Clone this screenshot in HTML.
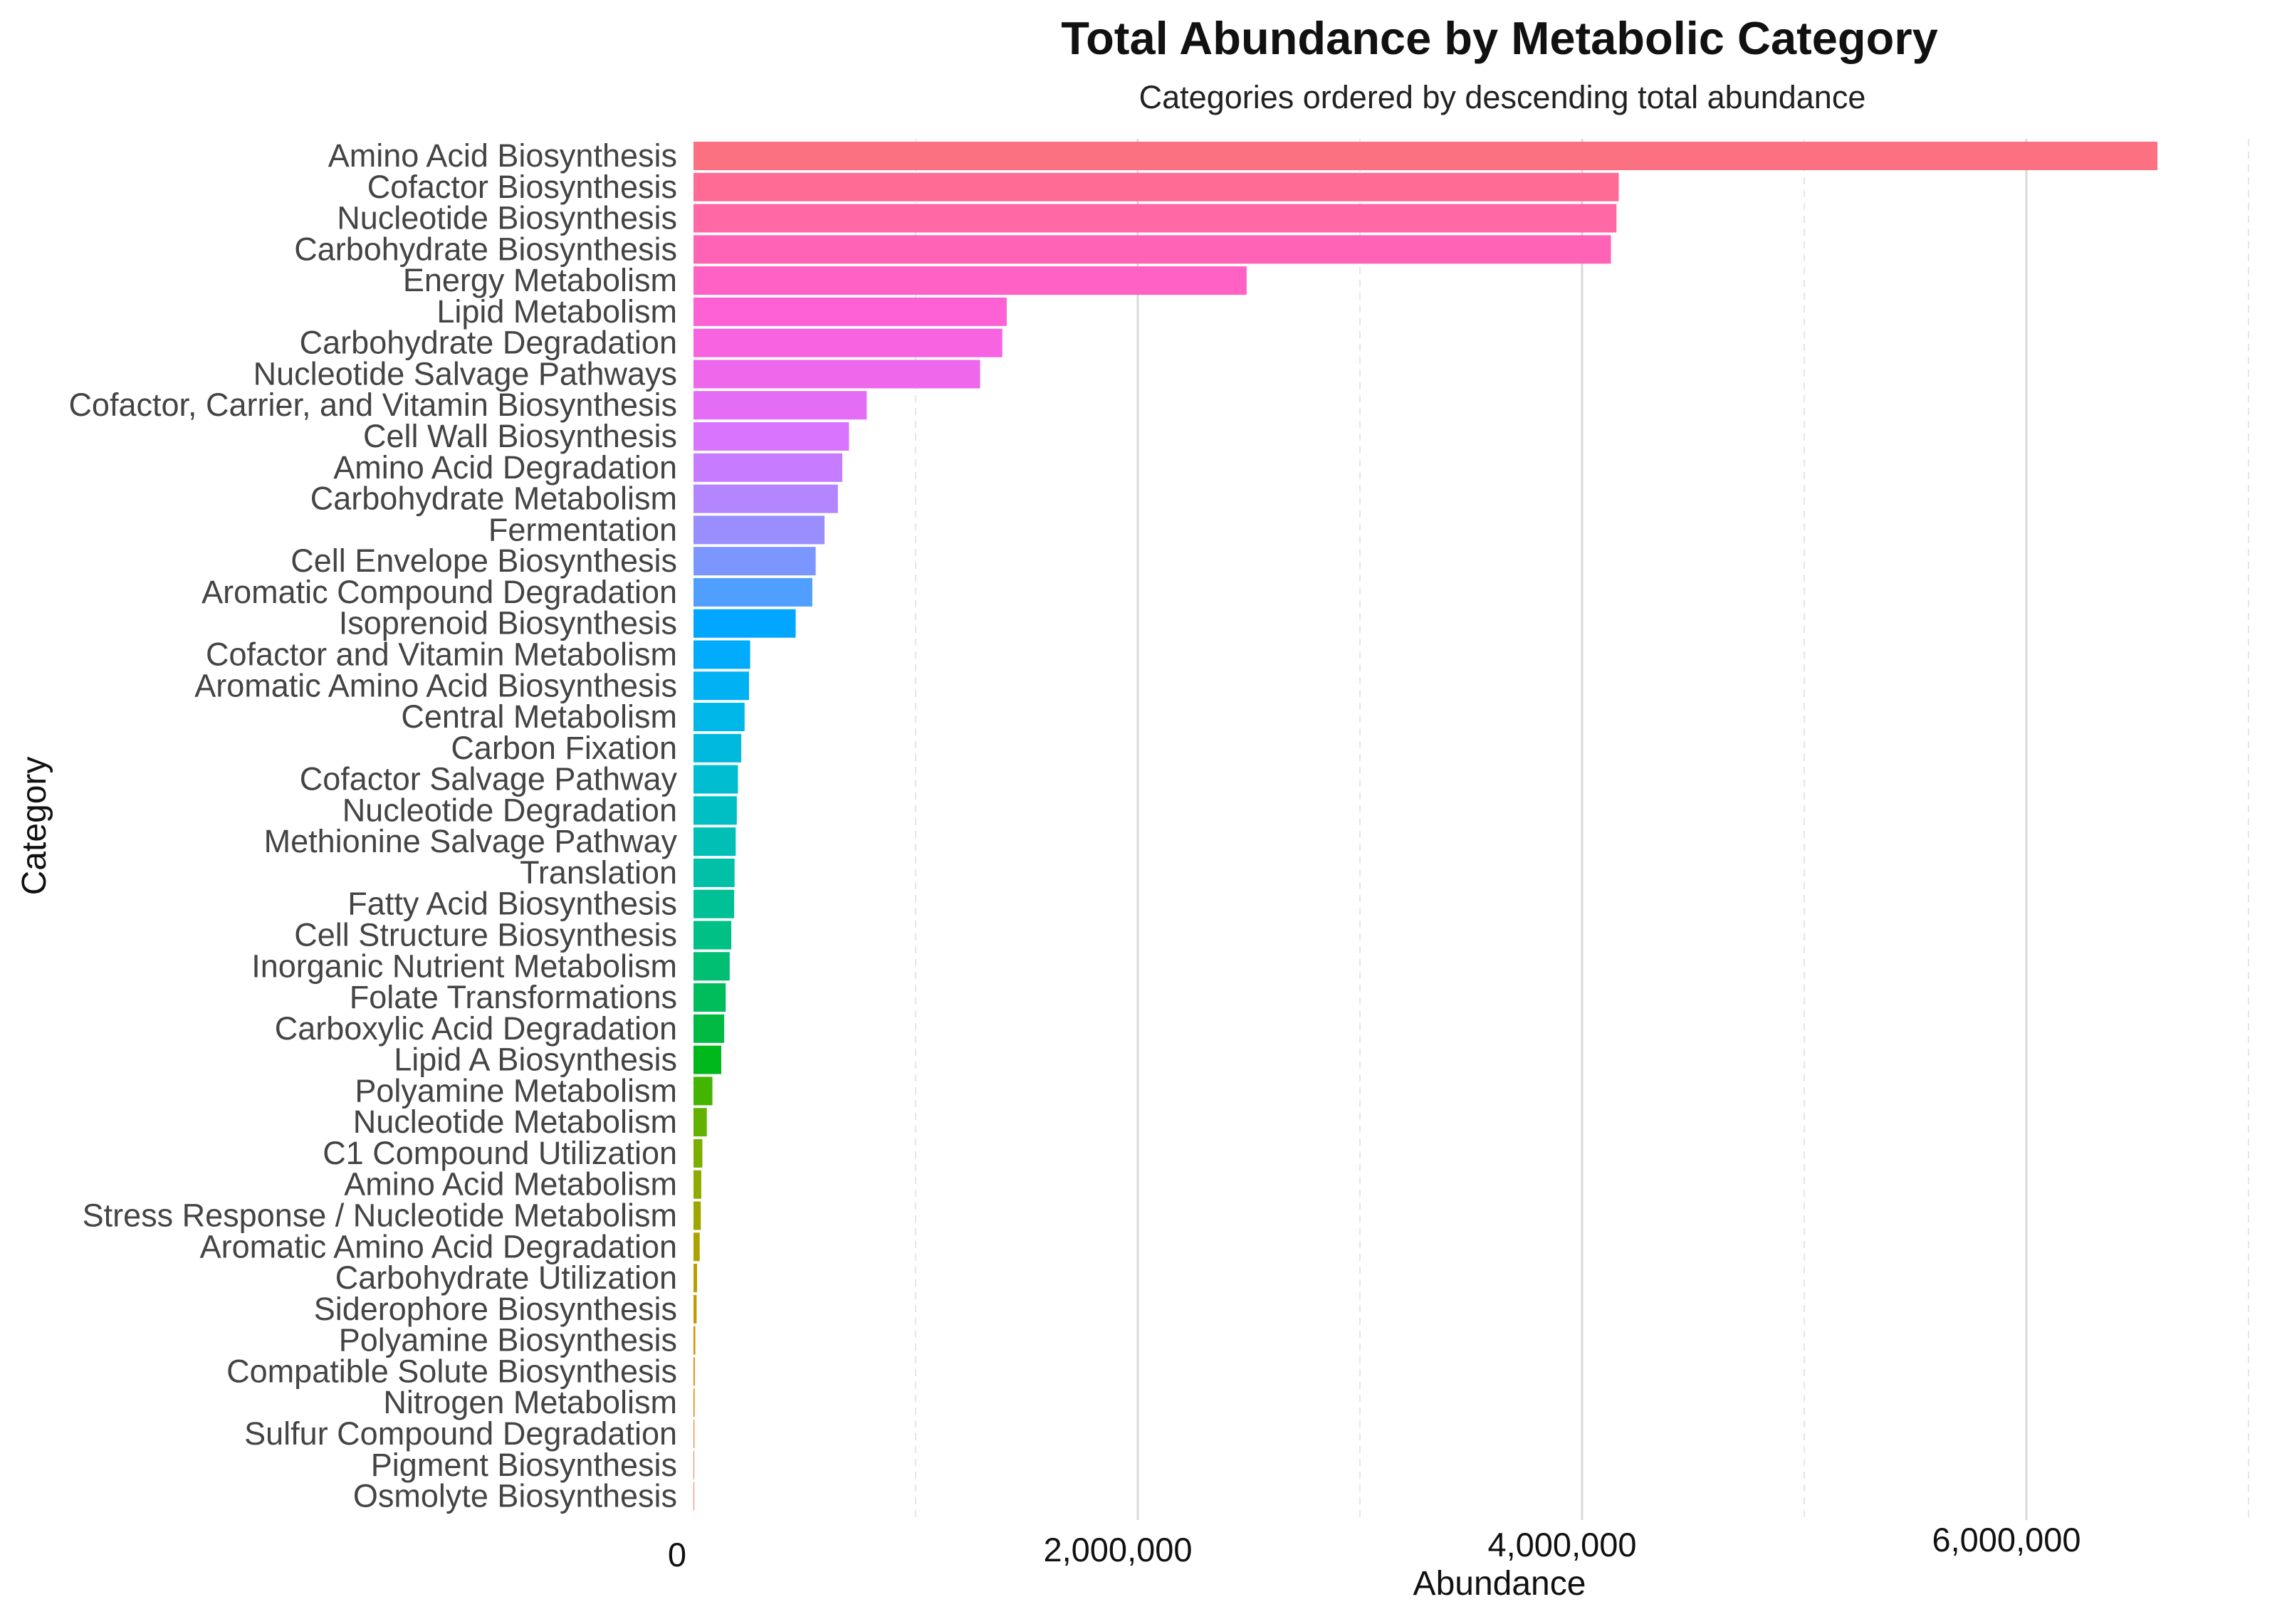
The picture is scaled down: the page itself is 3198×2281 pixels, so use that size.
<!DOCTYPE html>
<html><head><meta charset="utf-8"><style>
html,body{margin:0;padding:0;background:#fff;}
svg{display:block;font-family:"Liberation Sans",sans-serif;}
</style></head><body>
<svg id="chart" width="3198" height="2281" viewBox="0 0 3198 2281">
<text x="2106" y="76" text-anchor="middle" font-size="65" font-weight="bold" fill="#111">Total Abundance by Metabolic Category</text>
<text x="2110" y="152" text-anchor="middle" font-size="45" fill="#222">Categories ordered by descending total abundance</text>
<g id="grid"></g><g id="bars"></g><g id="ylabels"></g><g id="xticks"></g>
<text x="2106" y="2240" text-anchor="middle" font-size="48" fill="#111">Abundance</text>
<text transform="translate(64,1160) rotate(-90)" text-anchor="middle" font-size="48" fill="#111">Category</text>
</svg>
<script>
const categories=["Amino Acid Biosynthesis","Cofactor Biosynthesis","Nucleotide Biosynthesis","Carbohydrate Biosynthesis","Energy Metabolism","Lipid Metabolism","Carbohydrate Degradation","Nucleotide Salvage Pathways","Cofactor, Carrier, and Vitamin Biosynthesis","Cell Wall Biosynthesis","Amino Acid Degradation","Carbohydrate Metabolism","Fermentation","Cell Envelope Biosynthesis","Aromatic Compound Degradation","Isoprenoid Biosynthesis","Cofactor and Vitamin Metabolism","Aromatic Amino Acid Biosynthesis","Central Metabolism","Carbon Fixation","Cofactor Salvage Pathway","Nucleotide Degradation","Methionine Salvage Pathway","Translation","Fatty Acid Biosynthesis","Cell Structure Biosynthesis","Inorganic Nutrient Metabolism","Folate Transformations","Carboxylic Acid Degradation","Lipid A Biosynthesis","Polyamine Metabolism","Nucleotide Metabolism","C1 Compound Utilization","Amino Acid Metabolism","Stress Response / Nucleotide Metabolism","Aromatic Amino Acid Degradation","Carbohydrate Utilization","Siderophore Biosynthesis","Polyamine Biosynthesis","Compatible Solute Biosynthesis","Nitrogen Metabolism","Sulfur Compound Degradation","Pigment Biosynthesis","Osmolyte Biosynthesis"];
const values=[6590000,4165000,4155000,4130000,2490000,1410000,1390000,1290000,780000,700000,670000,650000,590000,550000,535000,460000,255000,250000,230000,215000,200000,195000,190000,185000,183000,170000,163000,145000,138000,125000,85000,60000,40000,35000,33000,28000,16000,14000,8000,6000,5000,4000,3000,2000];
const majorTicks=[0,2000000,4000000,6000000];
const tickLabels=["0","2,000,000","4,000,000","6,000,000"];
const minorTicks=[1000000,3000000,5000000,7000000];
const NS="http://www.w3.org/2000/svg";
const x0=974,k=312/1e6;
const xs=v=>x0+v*k;
const yc=i=>219+i*43.78;
function hcl(h,c,l){const Xn=95.047,Yn=100,Zn=108.883;const un=4*Xn/(Xn+15*Yn+3*Zn),vn=9*Yn/(Xn+15*Yn+3*Zn);
const Y=Math.pow((l+16)/116,3)*100;const hr=h*Math.PI/180;const u=c*Math.cos(hr),v=c*Math.sin(hr);
const up=u/(13*l)+un,vp=v/(13*l)+vn;const X=Y*9*up/(4*vp),Z=Y*(12-3*up-20*vp)/(4*vp);
const x=X/100,y=Y/100,z=Z/100;
let r=3.2404542*x-1.5371385*y-0.4985314*z,g=-0.9692660*x+1.8760108*y+0.0415560*z,b=0.0556434*x-0.2040259*y+1.0572252*z;
const gm=t=>{t=t<=0.0031308?12.92*t:1.055*Math.pow(t,1/2.4)-0.055;return Math.round(Math.max(0,Math.min(1,t))*255);};
return `rgb(${gm(r)},${gm(g)},${gm(b)})`;}
const grid=document.getElementById('grid');
minorTicks.forEach((t,i)=>{const l=document.createElementNS(NS,'line');
l.setAttribute('x1',xs(t));l.setAttribute('x2',xs(t));l.setAttribute('y1',195);l.setAttribute('y2',2135);
l.setAttribute('stroke','#e6e6e6');l.setAttribute('stroke-width','2');l.setAttribute('stroke-dasharray','10 8');


grid.appendChild(l);});
majorTicks.slice(1).forEach((t,i)=>{const l=document.createElementNS(NS,'line');
l.setAttribute('x1',xs(t));l.setAttribute('x2',xs(t));l.setAttribute('y1',195);l.setAttribute('y2',2135);
l.setAttribute('stroke','#d9d9d9');l.setAttribute('stroke-width','3');


grid.appendChild(l);});
const bars=document.getElementById('bars'),yl=document.getElementById('ylabels');
const n=categories.length;
categories.forEach((c,i)=>{
const hue=15+(n-1-i)*360/n;
const r=document.createElementNS(NS,'rect');
r.setAttribute('x',x0);r.setAttribute('y',yc(i)-20);r.setAttribute('height',40);
r.setAttribute('width',Math.max(1,xs(values[i])-x0));r.setAttribute('fill',hcl(hue,100,65));


bars.appendChild(r);
const t=document.createElementNS(NS,'text');
t.setAttribute('x',951);t.setAttribute('y',yc(i)+15);t.setAttribute('text-anchor','end');
t.setAttribute('font-size','45');t.setAttribute('fill','#444');t.textContent=c;


yl.appendChild(t);});
const xt=document.getElementById('xticks');
majorTicks.forEach((t,i)=>{const e=document.createElementNS(NS,'text');
e.setAttribute('x',i==0?951:xs(t)-28);e.setAttribute('y',2200-i*7);e.setAttribute('text-anchor','middle');
e.setAttribute('font-size','47');e.setAttribute('fill','#111');e.textContent=tickLabels[i];


xt.appendChild(e);});
</script>
</body></html>
